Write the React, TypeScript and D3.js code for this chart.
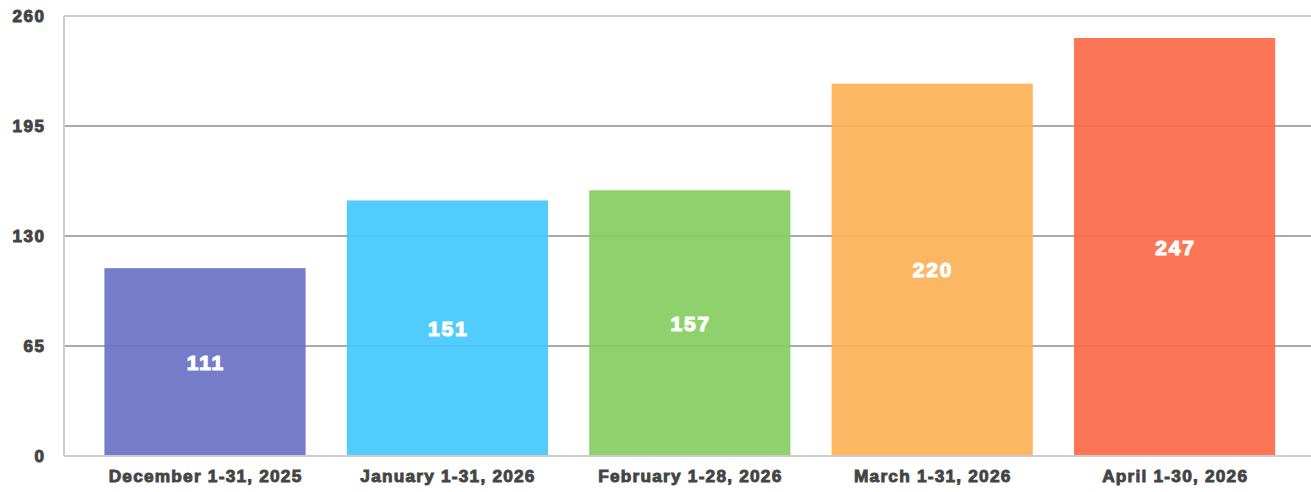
import React from "react";
import * as d3 from "d3";

const categories = [
  "December 1-31, 2025",
  "January 1-31, 2026",
  "February 1-28, 2026",
  "March 1-31, 2026",
  "April 1-30, 2026",
];
const values = [111, 151, 157, 220, 247];
const colors = ["#6a73c6", "#44c8fd", "#86cd62", "#fdb157", "#fd6b4a"];
const yTicks = [0, 65, 130, 195, 260];

const W = 1311;
const H = 492;
const M = { top: 16, bottom: 36, left: 64 };

export default function App() {
  const x = d3
    .scaleBand<string>()
    .domain(categories)
    .range([M.left, 1315.6])
    .paddingInner(0.17)
    .paddingOuter(0.1667);
  const y = d3.scaleLinear().domain([0, 260]).range([H - M.bottom, M.top]);
  const font = "'Liberation Sans', Arial, sans-serif";
  return (
    <svg
      width={W}
      height={H}
      style={{ position: "absolute", left: 0, top: 0 }}
      fontFamily={font}
    >
      <rect width={W} height={H} fill="#fff" />
      {yTicks
        .filter((t) => t !== 0 && t !== 260)
        .map((t) => (
          <line
            key={t}
            x1={M.left}
            x2={W}
            y1={y(t)}
            y2={y(t)}
            stroke="#aaaaaa"
            strokeWidth={2}
          />
        ))}
      <line x1={M.left} x2={W} y1={y(260)} y2={y(260)} stroke="#cccccc" strokeWidth={2} />
      {categories.map((c, i) => (
        <rect
          key={c}
          x={x(c)}
          y={y(values[i])}
          width={x.bandwidth()}
          height={y(0) - y(values[i])}
          fill={colors[i]}
          fillOpacity={0.93}
        />
      ))}
      <line x1={M.left} x2={M.left} y1={M.top} y2={y(0)} stroke="#cccccc" strokeWidth={2} />
      <line x1={M.left} x2={W} y1={y(0)} y2={y(0)} stroke="#cccccc" strokeWidth={2} />
      {yTicks.map((t) => (
        <text
          key={t}
          x={44 + 1.6}
          y={y(t)}
          dy="0.36em"
          textAnchor="end"
          fontSize={17}
          fontWeight="bold"
          letterSpacing={1.6}
          fill="#444"
          stroke="#444"
          strokeWidth={1}
        >
          {t}
        </text>
      ))}
      {categories.map((c) => (
        <text
          key={c}
          x={(x(c) as number) + x.bandwidth() / 2 + 0.6}
          y={482}
          textAnchor="middle"
          fontSize={17.3}
          fontWeight="bold"
          letterSpacing={1.2}
          fill="#444"
          stroke="#444"
          strokeWidth={0.9}
        >
          {c}
        </text>
      ))}
      {categories.map((c, i) => (
        <text
          key={c}
          x={(x(c) as number) + x.bandwidth() / 2 + 0.9}
          y={(y(values[i]) + y(0)) / 2}
          dy="0.36em"
          textAnchor="middle"
          fontSize={21}
          fontWeight="bold"
          letterSpacing={1.8}
          fill="#fff"
          stroke="#fff"
          strokeWidth={1.2}
        >
          {values[i]}
        </text>
      ))}
    </svg>
  );
}
